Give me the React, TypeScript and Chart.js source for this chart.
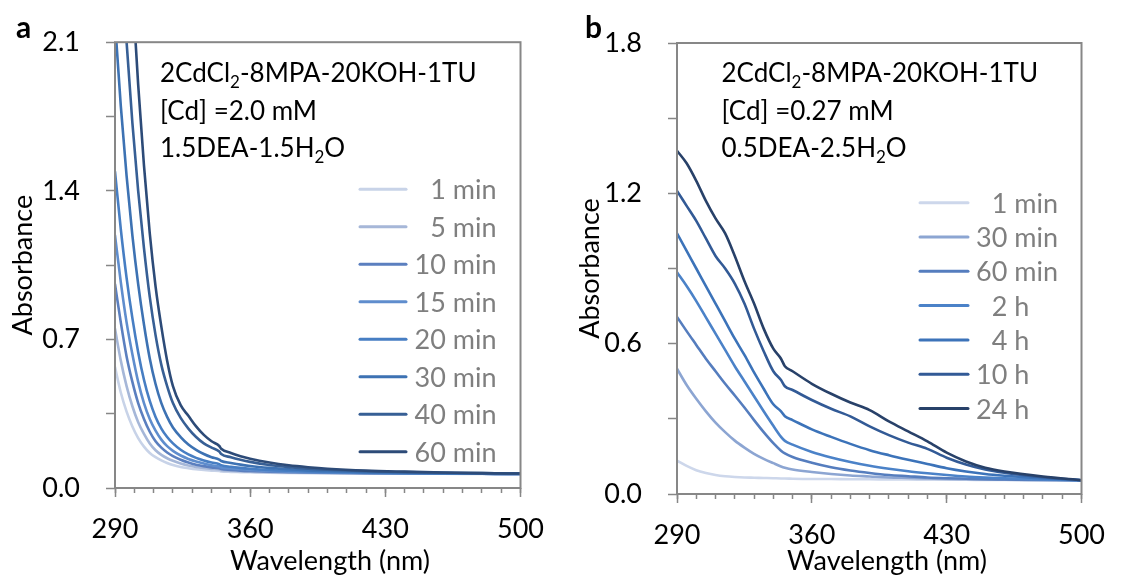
import React, { useEffect, useRef } from "react";
import { Chart, registerables } from "chart.js";

Chart.register(...registerables);

const FONT_FAMILY = "Lato, 'Open Sans', sans-serif";
const AXIS_GRAY = "#878787";
const LEGEND_GRAY = "#7f7f7f";
const TEXT_SIZE = 27;
const NOTE_SIZE = 26;

// ---------- Panel a ----------
const wavelengthA = [290, 293, 296, 299, 302, 305, 308, 311, 314, 317, 320, 324, 328, 332, 336, 340, 344, 345, 350, 355, 360, 370, 380, 390, 400, 420, 440, 460, 480, 500];
const a_1min = [0.57, 0.45, 0.36, 0.29, 0.235, 0.195, 0.165, 0.145, 0.13, 0.118, 0.108, 0.099, 0.093, 0.088, 0.085, 0.082, 0.08, 0.078, 0.076, 0.075, 0.074, 0.072, 0.071, 0.07, 0.069, 0.068, 0.067, 0.067, 0.066, 0.066];
const a_5min = [0.75, 0.6, 0.48, 0.385, 0.31, 0.255, 0.21, 0.178, 0.156, 0.14, 0.128, 0.115, 0.106, 0.099, 0.094, 0.09, 0.087, 0.084, 0.081, 0.079, 0.077, 0.075, 0.073, 0.072, 0.071, 0.069, 0.068, 0.067, 0.067, 0.066];
const a_10min = [0.96, 0.78, 0.62, 0.5, 0.4, 0.325, 0.265, 0.22, 0.19, 0.167, 0.15, 0.133, 0.12, 0.11, 0.103, 0.097, 0.093, 0.089, 0.085, 0.082, 0.08, 0.077, 0.075, 0.073, 0.072, 0.07, 0.068, 0.067, 0.067, 0.066];
const a_15min = [1.19, 0.97, 0.78, 0.63, 0.5, 0.4, 0.325, 0.27, 0.228, 0.197, 0.175, 0.153, 0.137, 0.125, 0.115, 0.107, 0.101, 0.097, 0.092, 0.088, 0.085, 0.08, 0.077, 0.075, 0.073, 0.071, 0.069, 0.068, 0.067, 0.066];
const a_20min = [1.49, 1.22, 0.99, 0.8, 0.64, 0.51, 0.41, 0.335, 0.28, 0.24, 0.21, 0.18, 0.158, 0.142, 0.13, 0.12, 0.112, 0.107, 0.1, 0.095, 0.091, 0.085, 0.081, 0.078, 0.076, 0.072, 0.07, 0.068, 0.067, 0.066];
const a_30min = [2.2, 1.8, 1.47, 1.19, 0.96, 0.77, 0.61, 0.49, 0.4, 0.335, 0.285, 0.24, 0.205, 0.18, 0.16, 0.145, 0.134, 0.127, 0.118, 0.11, 0.104, 0.095, 0.088, 0.083, 0.08, 0.075, 0.072, 0.07, 0.068, 0.067];
const a_40min = [3.1, 2.55, 2.1, 1.72, 1.4, 1.13, 0.9, 0.72, 0.58, 0.48, 0.4, 0.33, 0.28, 0.24, 0.21, 0.19, 0.172, 0.16, 0.145, 0.133, 0.123, 0.108, 0.098, 0.091, 0.086, 0.079, 0.075, 0.072, 0.07, 0.068];
const a_60min = [4.2, 3.5, 2.9, 2.35, 1.9, 1.52, 1.2, 0.95, 0.76, 0.6, 0.48, 0.39, 0.34, 0.29, 0.25, 0.22, 0.198, 0.185, 0.165, 0.15, 0.138, 0.12, 0.107, 0.098, 0.091, 0.082, 0.077, 0.073, 0.07, 0.068];
const labelsA = ["1 min", "5 min", "10 min", "15 min", "20 min", "30 min", "40 min", "60 min"];
const colorsA = ["#c8d3e8", "#a6b7d8", "#5b7fbf", "#5f8dcd", "#477ec3", "#3d72b3", "#375f95", "#2d4b78"];

// ---------- Panel b ----------
const wavelengthB = [290, 295, 300, 305, 310, 315, 320, 325, 330, 335, 340, 344, 346, 350, 360, 370, 380, 390, 400, 410, 420, 430, 440, 450, 460, 480, 500];
const b_1min = [0.133, 0.112, 0.095, 0.084, 0.076, 0.071, 0.068, 0.066, 0.065, 0.064, 0.063, 0.062, 0.062, 0.061, 0.06, 0.06, 0.059, 0.059, 0.058, 0.058, 0.057, 0.057, 0.057, 0.056, 0.056, 0.055, 0.055];
const b_30min = [0.5, 0.435, 0.38, 0.33, 0.285, 0.247, 0.213, 0.185, 0.16, 0.14, 0.123, 0.11, 0.105, 0.098, 0.088, 0.08, 0.074, 0.07, 0.066, 0.064, 0.062, 0.06, 0.059, 0.058, 0.057, 0.056, 0.055];
const b_60min = [0.707, 0.65, 0.595, 0.54, 0.49, 0.44, 0.393, 0.345, 0.295, 0.247, 0.203, 0.173, 0.162, 0.148, 0.125, 0.107, 0.094, 0.084, 0.076, 0.071, 0.066, 0.063, 0.061, 0.059, 0.058, 0.056, 0.055];
const b_2h = [0.885, 0.83, 0.77, 0.705, 0.64, 0.575, 0.51, 0.45, 0.39, 0.33, 0.272, 0.228, 0.212, 0.197, 0.168, 0.146, 0.128, 0.113, 0.101, 0.091, 0.083, 0.076, 0.07, 0.066, 0.063, 0.058, 0.055];
const b_4h = [1.04, 0.97, 0.9, 0.83, 0.76, 0.69, 0.62, 0.555, 0.485, 0.42, 0.358, 0.33, 0.31, 0.295, 0.258, 0.228, 0.2, 0.175, 0.155, 0.137, 0.12, 0.103, 0.09, 0.08, 0.073, 0.062, 0.055];
const b_10h = [1.21, 1.15, 1.09, 1.02, 0.95, 0.9, 0.84, 0.76, 0.66, 0.57, 0.49, 0.455, 0.43, 0.415, 0.375, 0.34, 0.31, 0.27, 0.235, 0.205, 0.18, 0.145, 0.118, 0.098, 0.085, 0.067, 0.055];
const b_24h = [1.37, 1.32, 1.25, 1.17, 1.1, 1.04, 0.95, 0.85, 0.76, 0.66, 0.58, 0.54, 0.51, 0.49, 0.44, 0.4, 0.365, 0.335, 0.29, 0.25, 0.21, 0.165, 0.13, 0.105, 0.09, 0.07, 0.055];
const labelsB = ["1 min", "30 min", "60 min", "2 h", "4 h", "10 h", "24 h"];
const colorsB = ["#cdd7eb", "#8ca5d2", "#557dbe", "#4b82c8", "#3c73b9", "#325a96", "#284169"];

// ---------- Text ----------
type Seg = [string, boolean];
const noteA: Seg[][] = [
  [["2CdCl", false], ["2", true], ["-8MPA-20KOH-1TU", false]],
  [["[Cd] =2.0 mM", false]],
  [["1.5DEA-1.5H", false], ["2", true], ["O", false]],
];
const noteB: Seg[][] = [
  [["2CdCl", false], ["2", true], ["-8MPA-20KOH-1TU", false]],
  [["[Cd] =0.27 mM", false]],
  [["0.5DEA-2.5H", false], ["2", true], ["O", false]],
];

interface PanelSpec {
  letter: string;
  wavelengths: number[];
  series: number[][];
  labels: string[];
  colors: string[];
  yMax: number;
  yStep: number;
  note: Seg[][];
  width: number;
  plotLeft: number;
  plotRight: number;
  plotTop: number;
  plotBottom: number;
  yTitlePad: number;
  xTitleX: number;
  letterX: number;
  noteX: number;
  legLineX0: number;
  legLineX1: number;
  legTextX: number;
  legY0: number;
  legDy: number;
}

const HEIGHT = 577;

const panelA: PanelSpec = {
  letter: "a",
  wavelengths: wavelengthA,
  series: [a_1min, a_5min, a_10min, a_15min, a_20min, a_30min, a_40min, a_60min],
  labels: labelsA,
  colors: colorsA,
  yMax: 2.1,
  yStep: 0.35,
  note: noteA,
  width: 560,
  plotLeft: 115,
  plotRight: 527,
  plotTop: 42,
  plotBottom: 488,
  yTitlePad: 7,
  xTitleX: 330,
  letterX: 16,
  noteX: 160,
  legLineX0: 360,
  legLineX1: 406,
  legTextX: 414.5,
  legY0: 189.3,
  legDy: 37.5,
};

const panelB: PanelSpec = {
  letter: "b",
  wavelengths: wavelengthB,
  series: [b_1min, b_30min, b_60min, b_2h, b_4h, b_10h, b_24h],
  labels: labelsB,
  colors: colorsB,
  yMax: 1.8,
  yStep: 0.3,
  note: noteB,
  width: 561,
  plotLeft: 117,
  plotRight: 531,
  plotTop: 43,
  plotBottom: 494,
  yTitlePad: 14,
  xTitleX: 327,
  letterX: 25,
  noteX: 161.5,
  legLineX0: 360,
  legLineX1: 408,
  legTextX: 416,
  legY0: 202.7,
  legDy: 34.3,
};

function buildChart(canvas: HTMLCanvasElement, spec: PanelSpec): Chart {
  const font = { family: FONT_FAMILY, size: TEXT_SIZE };
  const decor = {
    id: "decor",
    afterDraw(chart: any) {
      const { ctx, chartArea } = chart;
      const { left, top, right, bottom } = chartArea;
      ctx.save();
      ctx.strokeStyle = AXIS_GRAY;
      ctx.lineWidth = 2;
      ctx.strokeRect(left, top, right - left, bottom - top);

      ctx.fillStyle = "#000";
      ctx.textAlign = "left";
      ctx.textBaseline = "alphabetic";
      ctx.font = `bold 30px ${FONT_FAMILY}`;
      ctx.fillText(spec.letter, spec.letterX, 38);

      spec.note.forEach((line, li) => {
        let x = spec.noteX;
        const y = 82 + li * 37.5;
        line.forEach(([t, sub]) => {
          ctx.font = sub ? `17px ${FONT_FAMILY}` : `${NOTE_SIZE}px ${FONT_FAMILY}`;
          ctx.fillText(t, x, sub ? y + 6 : y);
          x += ctx.measureText(t).width;
        });
      });

      chart.data.datasets.forEach((ds: any, i: number) => {
        const y = spec.legY0 + i * spec.legDy;
        ctx.strokeStyle = ds.borderColor;
        ctx.lineWidth = 3;
        ctx.lineCap = "round";
        ctx.beginPath();
        ctx.moveTo(spec.legLineX0, y);
        ctx.lineTo(spec.legLineX1, y);
        ctx.stroke();
        ctx.font = `${TEXT_SIZE}px ${FONT_FAMILY}`;
        ctx.fillStyle = LEGEND_GRAY;
        const label: string = ds.label;
        const pad = /^\d\s/.test(label) ? ctx.measureText("0").width : 0;
        ctx.fillText(label, spec.legTextX + pad, y + 10);
      });

      ctx.fillStyle = "#000";
      ctx.textAlign = "center";
      ctx.font = `${TEXT_SIZE}px ${FONT_FAMILY}`;
      ctx.fillText("Wavelength (nm)", spec.xTitleX, 570);
      ctx.restore();
    },
  };

  const n = spec.series.length;
  return new Chart(canvas, {
    type: "line",
    data: {
      datasets: spec.series.map((vals, i) => ({
        label: spec.labels[i],
        data: spec.wavelengths.map((w, k) => ({ x: w, y: vals[k] })),
        borderColor: spec.colors[i],
        backgroundColor: spec.colors[i],
        borderWidth: 2.6,
        pointRadius: 0,
        fill: false,
        cubicInterpolationMode: "monotone",
        borderJoinStyle: "round",
        borderCapStyle: "round",
        order: n - i,
        xAxisID: "x",
        yAxisID: "y",
      })),
    },
    options: {
      animation: false,
      responsive: false,
      devicePixelRatio: 1,
      events: [],
      layout: {
        padding: { left: 0, top: spec.plotTop, right: spec.width - spec.plotRight, bottom: 0 },
      },
      plugins: { legend: { display: false }, tooltip: { enabled: false } },
      scales: {
        xMinor: {
          type: "linear",
          position: "bottom",
          min: 290,
          max: 500,
          weight: 0,
          ticks: { stepSize: 10, display: false, autoSkip: false },
          grid: { drawOnChartArea: false, drawTicks: true, tickLength: 5, tickColor: AXIS_GRAY, tickWidth: 1.5 },
          border: { display: false },
          afterFit: (s: any) => {
            s.height = 0;
          },
        },
        x: {
          type: "linear",
          position: "bottom",
          min: 290,
          max: 500,
          weight: 1,
          ticks: { stepSize: 70, autoSkip: false, maxRotation: 0, color: "#000", font, padding: 16 },
          grid: { drawOnChartArea: false, drawTicks: true, tickLength: 9, tickColor: AXIS_GRAY, tickWidth: 1.5 },
          border: { display: false },
          afterFit: (s: any) => {
            s.height = HEIGHT - spec.plotBottom;
          },
        },
        y: {
          type: "linear",
          position: "left",
          min: 0,
          max: spec.yMax,
          ticks: {
            stepSize: spec.yStep,
            autoSkip: false,
            color: "#000",
            font,
            padding: 26,
            callback: (v: any, idx: number) => (idx % 2 === 0 ? Number(v).toFixed(1) : ""),
          },
          grid: { drawOnChartArea: false, drawTicks: true, tickLength: 9, tickColor: AXIS_GRAY, tickWidth: 1.5 },
          border: { display: false },
          title: {
            display: true,
            text: "Absorbance",
            color: "#000",
            font,
            padding: { top: spec.yTitlePad, bottom: 0 },
          },
          afterFit: (s: any) => {
            s.width = spec.plotLeft;
          },
        },
      },
    } as any,
    plugins: [decor],
  });
}

export default function App() {
  const refA = useRef<HTMLCanvasElement>(null);
  const refB = useRef<HTMLCanvasElement>(null);

  useEffect(() => {
    const charts: Chart[] = [];
    if (refA.current) charts.push(buildChart(refA.current, panelA));
    if (refB.current) charts.push(buildChart(refB.current, panelB));
    return () => charts.forEach((c) => c.destroy());
  }, []);

  return (
    <div style={{ position: "fixed", left: 0, top: 0, width: 1121, height: HEIGHT, background: "#fff" }}>
      <canvas
        ref={refA}
        width={panelA.width}
        height={HEIGHT}
        style={{ position: "absolute", left: 0, top: 0, width: panelA.width, height: HEIGHT, display: "block" }}
      />
      <canvas
        ref={refB}
        width={panelB.width}
        height={HEIGHT}
        style={{ position: "absolute", left: 560, top: 0, width: panelB.width, height: HEIGHT, display: "block" }}
      />
    </div>
  );
}
